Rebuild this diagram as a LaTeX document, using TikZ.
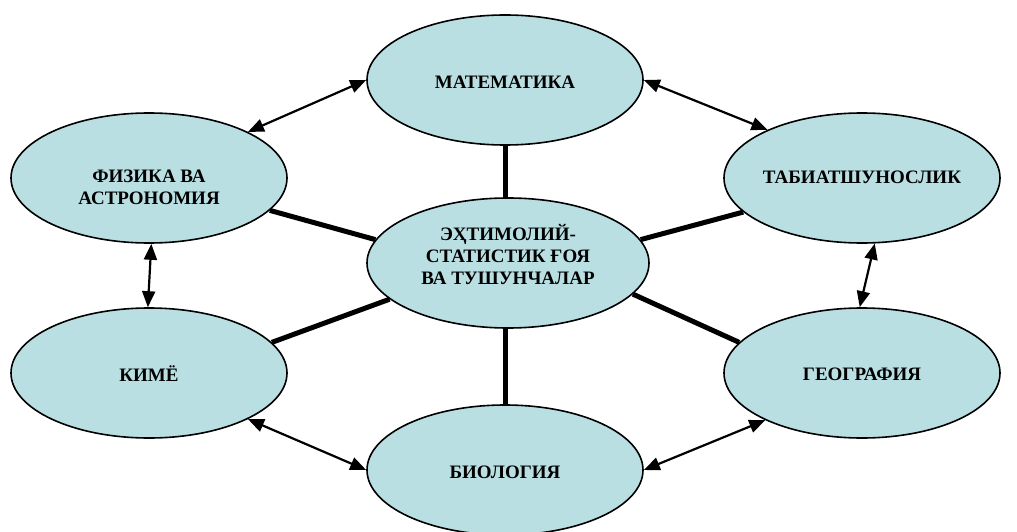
\documentclass[tikz,border=0pt]{standalone}
\usepackage{fontspec}
\setmainfont{Liberation Serif}
\usetikzlibrary{shapes.geometric,arrows.meta}
\definecolor{fillblue}{RGB}{185,223,227}
\tikzset{
  oval/.style={ellipse, draw=black, line width=1.6pt, fill=fillblue, inner sep=0pt,
    minimum width=276pt, minimum height=130pt},
  lbl/.style={font=\fontsize{19pt}{22pt}\selectfont\bfseries, align=center, inner sep=0pt},
  thick link/.style={line width=5pt},
  biarrow/.style={line width=2.2pt, {Triangle[length=16pt,width=13pt]}-{Triangle[length=16pt,width=13pt]}}
}
\begin{document}
\begin{tikzpicture}[x=1pt,y=-1pt]
\useasboundingbox (0,0) rectangle (1017,532);
\node[oval] (m) at (505,80) {};
\node[oval] (p) at (149,178) {};
\node[oval] (t) at (862,178) {};
\node[oval, minimum width=282pt] (c) at (508,263) {};
\node[oval] (k) at (149,373) {};
\node[oval] (g) at (862,373) {};
\node[oval] (b) at (505,470) {};

\node[lbl] (ml) at (505,82) {МАТЕМАТИКА};
\node[lbl] (pl) at (149,187) {ФИЗИКА ВА\\АСТРОНОМИЯ};
\node[lbl] (tl) at (862,177) {ТАБИАТШУНОСЛИК};
\node[lbl] (cl) at (508,255) {ЭҲТИМОЛИЙ-\\СТАТИСТИК ҒОЯ\\ВА ТУШУНЧАЛАР};
\node[lbl] (kl) at (149,374) {КИМЁ};
\node[lbl] (gl) at (862,374) {ГЕОГРАФИЯ};
\node[lbl] (bl) at (505,472) {БИОЛОГИЯ};

% thick links to the centre
\draw[thick link] (m.south) -- (c.north -| m.south);
\draw[thick link] (b.north) -- (c.south -| b.north);
\draw[thick link] (p.-15) -- (c.170);
\draw[thick link] (t.-164) -- (c.10);
\draw[thick link] (k.14) -- (c.197);
\draw[thick link] (g.166) -- (c.-14);

% double arrows
\draw[biarrow] (p.25.6) -- (m.180);
\draw[biarrow] (m.0) -- (t.153.7);
\draw[biarrow] (p.-88) -- (k.91);
\draw[biarrow] (t.-79) -- (g.92);
\draw[biarrow] (k.-25) -- (b.180);
\draw[biarrow] (g.-154) -- (b.0);
\end{tikzpicture}
\end{document}
